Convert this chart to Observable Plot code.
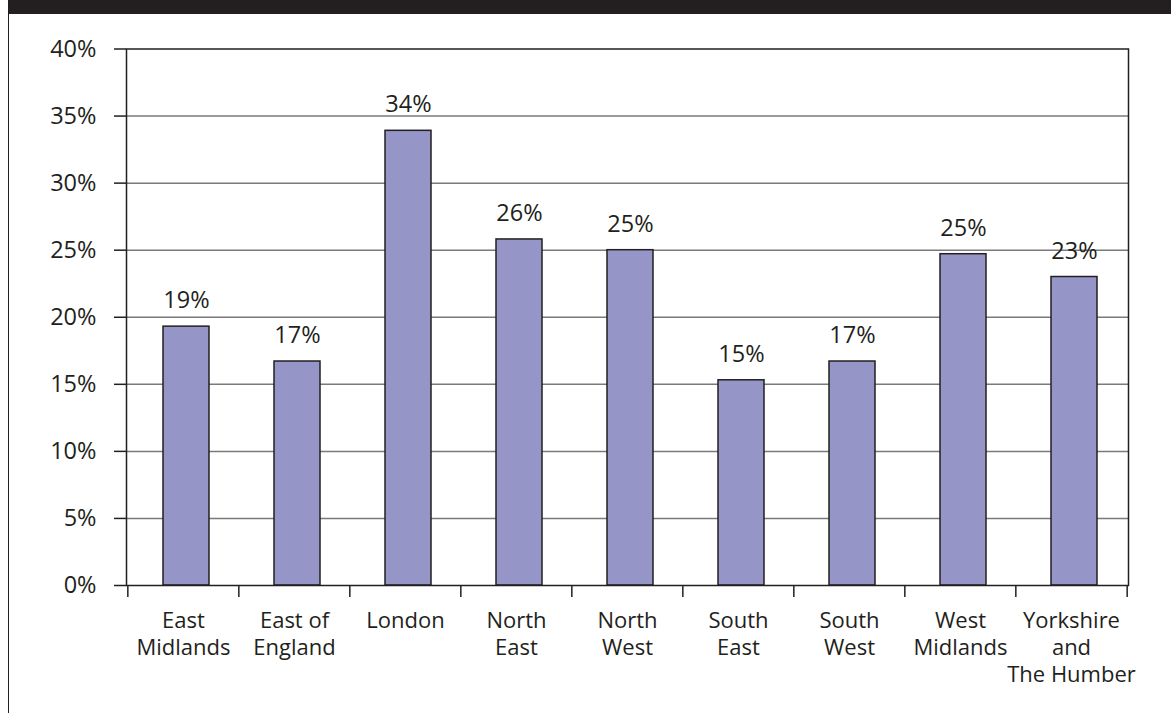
<!DOCTYPE html>
<html>
<head>
<meta charset="utf-8">
<script src="https://cdn.jsdelivr.net/npm/d3@7"></script>
<script src="https://cdn.jsdelivr.net/npm/@observablehq/plot@0.6"></script>
<style>
  html, body { margin: 0; padding: 0; background: #fff; }
  #wrap { position: relative; width: 1171px; height: 713px; overflow: hidden; }
  #frame {
    position: absolute; left: 8px; top: 0; right: 0; bottom: 0;
    border-top: 14px solid #231f20; border-left: 1.5px solid #231f20;
    pointer-events: none; z-index: 2;
  }
  #chart { position: absolute; left: 0; top: 0; z-index: 1; }
</style>
</head>
<body>
<div id="wrap"><div id="chart"></div><div id="frame"></div></div>
<script>
const regions = ["East\nMidlands", "East of\nEngland", "London", "North\nEast", "North\nWest", "South\nEast", "South\nWest", "West\nMidlands", "Yorkshire\nand\nThe Humber"];
const shares = [19.3, 16.7, 33.9, 25.8, 25.0, 15.3, 16.7, 24.7, 23.0];
const valueLabels = ["19%", "17%", "34%", "26%", "25%", "15%", "17%", "25%", "23%"];
const yTicks = [0, 5, 10, 15, 20, 25, 30, 35, 40];

const data = regions.map((r, i) => ({region: r, value: shares[i], label: valueLabels[i]}));

const W = 1171, H = 713;
const mL = 126, mR = 43, mT = 48.5, mB = 128;
const step = (W - mL - mR) / regions.length;
const ink = "#231f20";
const font = "'Open Sans', 'Noto Sans', sans-serif";

const chart = Plot.plot({
  width: W, height: H,
  marginLeft: mL, marginRight: mR, marginTop: mT, marginBottom: mB,
  style: {background: "transparent", fontFamily: font, color: ink},
  x: {domain: regions, paddingInner: 0.587, paddingOuter: 0.2935, label: null},
  y: {domain: [0, 40], label: null},
  marks: [
    Plot.gridY(yTicks.filter(t => t > 0 && t < 40), {stroke: "#7a7a7a", strokeOpacity: 1, strokeWidth: 1.5}),
    Plot.barY(data, {x: "region", y: "value", fill: "#9595c8", stroke: ink, strokeWidth: 1.5, dx: 3}),
    Plot.frame({stroke: ink, strokeWidth: 1.5}),
    Plot.axisY({ticks: yTicks, tickFormat: d => d + "%", tickSize: 12, tickPadding: 18, fontSize: 23.5, stroke: ink, strokeWidth: 1.5, fill: ink}),
    Plot.axisX({tickSize: 0, tickPadding: 23, fontSize: 22, lineHeight: 1.24, fill: ink}),
    Plot.ruleX(regions, {x: d => d, y1: () => 0, y2: () => 0, dx: -step / 2, insetBottom: -12, stroke: ink, strokeWidth: 1.5}),
    Plot.ruleX(regions.slice(-1), {x: d => d, y1: () => 0, y2: () => 0, dx: step / 2, insetBottom: -12, stroke: ink, strokeWidth: 1.5}),
    Plot.text(data, {x: "region", y: "value", text: "label", dx: 3, dy: -26, fontSize: 23.5, fill: ink})
  ]
});
document.getElementById("chart").appendChild(chart);
</script>
</body>
</html>
